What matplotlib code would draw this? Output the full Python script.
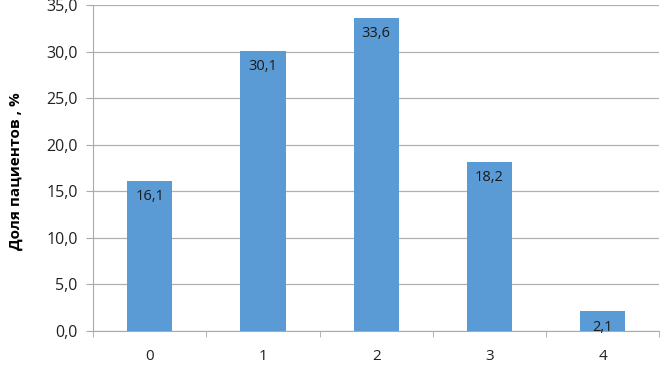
import matplotlib.pyplot as plt
from matplotlib.ticker import FixedLocator, NullFormatter

categories = ['0', '1', '2', '3', '4']
values = [16.1, 30.1, 33.6, 18.2, 2.1]
yticks = [0, 5, 10, 15, 20, 25, 30, 35]

plt.rcParams['font.family'] = ['Open Sans', 'DejaVu Sans']

fig = plt.figure(figsize=(6.61, 3.65), dpi=100)
ax = fig.add_axes([0.1407, 0.093, 0.857, 0.893])

x = range(len(categories))
bars = ax.bar(x, values, width=0.4, color='#5B9BD5', zorder=3)

for b, v in zip(bars, values):
    ax.annotate(f'{v:.1f}'.replace('.', ','), (b.get_x() + b.get_width() / 2, v),
                xytext=(0, -6), textcoords='offset points', ha='center', va='top',
                fontsize=10.5, color='#1a1a1a', zorder=4)

ax.set_xlim(-0.5, 4.5)
ax.set_ylim(0, 35)
ax.set_yticks(yticks)
ax.set_yticklabels([f'{t:.1f}'.replace('.', ',') for t in yticks], fontsize=11.5, color='#222222')
ax.set_xticks(list(x))
ax.set_xticklabels(categories, fontsize=11, color='#222222')
ax.tick_params(axis='x', length=0, pad=13)
ax.xaxis.set_minor_locator(FixedLocator([-0.5, 0.5, 1.5, 2.5, 3.5, 4.5]))
ax.xaxis.set_minor_formatter(NullFormatter())
ax.tick_params(axis='x', which='minor', length=4, color='#aaaaaa')
ax.tick_params(axis='y', length=5, color='#aaaaaa', pad=6)

ax.grid(axis='y', color='#b0b0b0', linewidth=0.9, zorder=0)
for s in ['top', 'right']:
    ax.spines[s].set_visible(False)
ax.spines['left'].set_color('#aaaaaa')
ax.spines['bottom'].set_color('#aaaaaa')

ax.set_ylabel('Доля пациентов , %', fontsize=11, fontweight='bold')
ax.yaxis.set_label_coords(-0.124, 0.49)

fig.savefig('out.png', dpi=100)
